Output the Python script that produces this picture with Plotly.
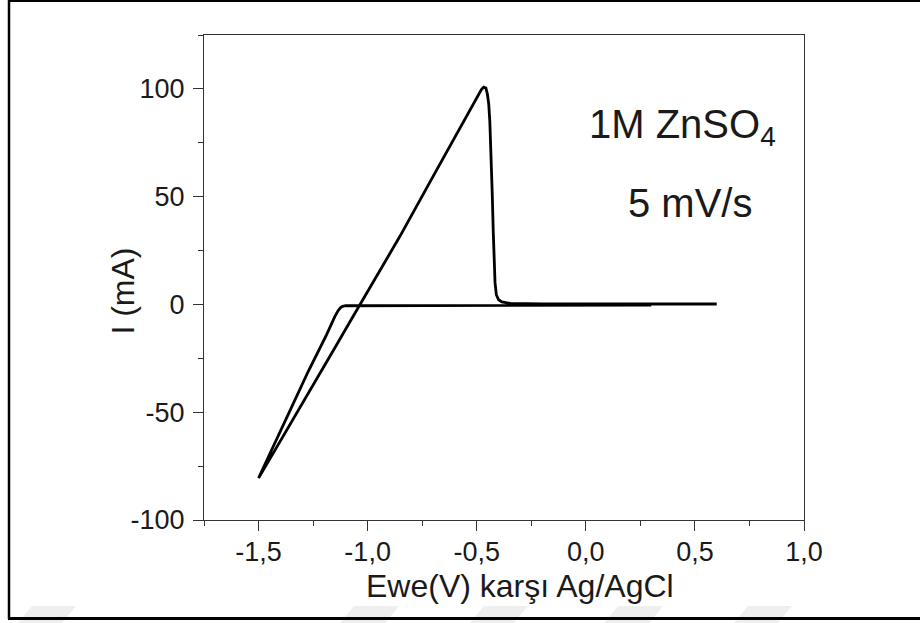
import plotly.graph_objects as go

# Cyclic voltammogram of Zn in 1M ZnSO4, 5 mV/s scan rate
# Cathodic sweep: 0.3 V -> -1.5 V (Ewe in V, current in mA)
E_forward = [0.30, 0.00, -0.40, -0.80, -1.05, -1.10, -1.115, -1.125, -1.135,
             -1.150, -1.188, -1.272, -1.341, -1.409, -1.460, -1.500]
I_forward = [-0.3, -0.3, -0.35, -0.4, -0.5, -0.6, -0.9, -1.6, -2.8,
             -5.5, -14.0, -31.0, -46.0, -61.0, -71.8, -80.5]

# Anodic sweep: -1.5 V -> 0.6 V (stripping peak near -0.47 V)
E_reverse = [-1.500, -1.450, -1.371, -1.295, -1.218, -1.142, -1.081, -1.030,
             -0.852, -0.700, -0.600, -0.546, -0.510, -0.490, -0.478, -0.468,
             -0.458, -0.451, -0.445, -0.440, -0.434, -0.429, -0.424, -0.421,
             -0.416, -0.410, -0.400, -0.385, -0.365, -0.347, -0.200, 0.000,
             0.300, 0.600]
I_reverse = [-80.5, -72.0, -58.5, -45.2, -31.8, -18.7, -8.0, 0.8,
             31.6, 59.4, 77.5, 87.2, 93.5, 97.5, 99.8, 100.8,
             100.4, 97.5, 93.0, 85.0, 70.0, 51.7, 33.0, 20.8,
             10.0, 4.5, 2.2, 1.2, 0.7, 0.5, 0.3, 0.2,
             0.2, 0.2]

x_tick_vals = [-1.5, -1.0, -0.5, 0.0, 0.5, 1.0]
x_tick_text = ["-1,5", "-1,0", "-0,5", "0,0", "0,5", "1,0"]
y_tick_vals = [-100, -50, 0, 50, 100]
y_tick_text = ["-100", "-50", "0", "50", "100"]

x_title = "Ewe(V) karşı Ag/AgCl"
y_title = "I (mA)"
label_electrolyte = "1M ZnSO<sub>4</sub>"
label_rate = "5 mV/s"

FONT = "Liberation Sans, Arial, sans-serif"
AXIS_COLOR = "#333333"
TEXT_COLOR = "#1a1a1a"

fig = go.Figure()
fig.add_trace(go.Scatter(
    x=E_forward + E_reverse,
    y=I_forward + I_reverse,
    mode="lines",
    line=dict(color="black", width=2.8),
    hoverinfo="skip",
))

axis_common = dict(
    showline=True, linewidth=1.3, linecolor=AXIS_COLOR, mirror=True,
    ticks="outside", ticklen=10, tickwidth=1.3, tickcolor=AXIS_COLOR,
    showgrid=False, zeroline=False,
    tickfont=dict(family=FONT, size=27, color=TEXT_COLOR),
)

fig.update_layout(
    width=920, height=623, autosize=False,
    margin=dict(l=204, r=116, t=35, b=103),
    paper_bgcolor="white", plot_bgcolor="white",
    showlegend=False,
    xaxis=dict(
        range=[-1.75, 1.0], tickmode="array",
        tickvals=x_tick_vals, ticktext=x_tick_text,
        ticklabelstandoff=-3,
        minor=dict(tickmode="linear", tick0=0, dtick=0.25, ticks="outside",
                   ticklen=5, tickwidth=1.3, tickcolor=AXIS_COLOR, showgrid=False),
        **axis_common,
    ),
    yaxis=dict(
        range=[-100, 125], tickmode="array",
        tickvals=y_tick_vals, ticktext=y_tick_text,
        ticklabelstandoff=3,
        minor=dict(tickmode="linear", tick0=0, dtick=25, ticks="outside",
                   ticklen=5, tickwidth=1.3, tickcolor=AXIS_COLOR, showgrid=False),
        **axis_common,
    ),
)

# Axis titles
fig.add_annotation(text=x_title, xref="paper", yref="paper", x=0.526, y=-0.137,
                   xanchor="center", yanchor="middle", showarrow=False,
                   font=dict(family=FONT, size=32, color=TEXT_COLOR))
fig.add_annotation(text=y_title, xref="paper", yref="paper", x=-0.135, y=0.471,
                   xanchor="center", yanchor="middle", showarrow=False, textangle=-90,
                   font=dict(family=FONT, size=32, color=TEXT_COLOR))

# Experimental conditions
fig.add_annotation(text=label_electrolyte, x=0.004, y=82.4, xanchor="left",
                   yanchor="middle", showarrow=False,
                   font=dict(family=FONT, size=40, color=TEXT_COLOR))
fig.add_annotation(text=label_rate, x=0.476, y=47.2, xanchor="center",
                   yanchor="middle", showarrow=False,
                   font=dict(family=FONT, size=40, color=TEXT_COLOR))

# Pixel -> paper coordinate helpers for the frame around the figure
def px_x(p):
    return (p - 204) / 600.0

def px_y(p):
    return (520 - p) / 485.0

# Faint slanted bands along the bottom edge
for x0, x1 in [(18, 76), (340, 399), (470, 528), (604, 663), (734, 792)]:
    path = (f"M {px_x(x0)} {px_y(623)} L {px_x(x1 - 14)} {px_y(623)} "
            f"L {px_x(x1)} {px_y(606)} L {px_x(x0 + 14)} {px_y(606)} Z")
    fig.add_shape(type="path", path=path, xref="paper", yref="paper",
                  fillcolor="#efefef", line=dict(width=0), layer="below")

# Outer frame
fig.add_shape(type="line", xref="paper", yref="paper",
              x0=px_x(9), x1=px_x(9), y0=px_y(0), y1=px_y(619),
              line=dict(color="black", width=2.5))
fig.add_shape(type="line", xref="paper", yref="paper",
              x0=px_x(8), x1=px_x(930), y0=px_y(1), y1=px_y(1),
              line=dict(color="black", width=2))
fig.add_shape(type="line", xref="paper", yref="paper",
              x0=px_x(8), x1=px_x(930), y0=px_y(618.5), y1=px_y(618.5),
              line=dict(color="black", width=3.2))

fig.write_html("out.html")
